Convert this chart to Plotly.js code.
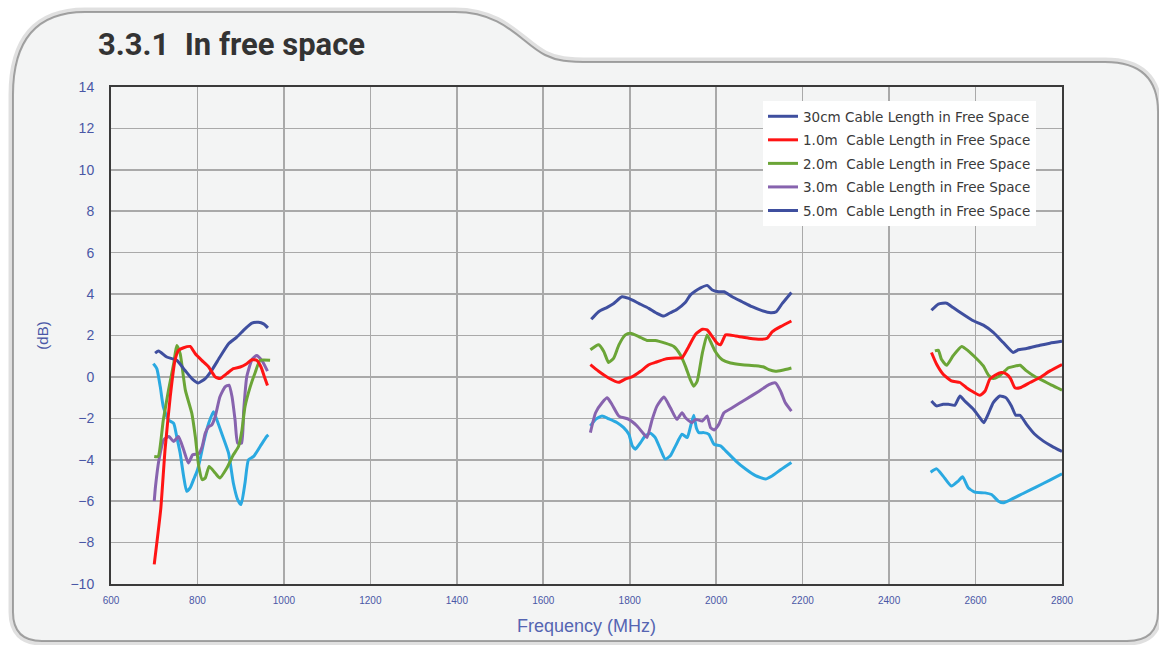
<!DOCTYPE html>
<html>
<head>
<meta charset="utf-8">
<script src="https://cdn.plot.ly/plotly-3.0.1.min.js"></script>
<style>
  html, body { margin: 0; padding: 0; background: #ffffff; }
  #chart { width: 1159px; height: 645px; }
</style>
</head>
<body>
<div id="chart"></div>
<script>
// ---- Data; null separates the frequency bands ----
const seriesNames = [
  "30cm Cable Length in Free Space",
  "1.0m  Cable Length in Free Space",
  "2.0m  Cable Length in Free Space",
  "3.0m  Cable Length in Free Space",
  "5.0m  Cable Length in Free Space"
];

const freq_30cm = [702,710,729,752,771,787,802,818,833,852,872,891,910,926,941,953,963, null,
  1711,1728,1748,1763,1782,1798,1821,1844,1863,1879,1894,1909,1929,1940,1952,1964,1979,1991,2006,2018,2037,2060,2083,2106,2126,2139,2153,2174, null,
  2498,2514,2533,2548,2571,2595,2618,2641,2664,2687,2699,2718,2749,2772,2800];
const db_30cm = [1.15,1.25,0.96,0.8,0.32,-0.08,-0.29,-0.08,0.32,0.96,1.6,1.92,2.32,2.6,2.64,2.56,2.37, null,
  2.78,3.15,3.36,3.55,3.87,3.79,3.55,3.31,3.07,2.94,3.1,3.26,3.6,3.95,4.15,4.3,4.42,4.2,4.11,4.11,3.87,3.63,3.39,3.2,3.1,3.15,3.55,4.08, null,
  3.22,3.52,3.56,3.35,3.03,2.71,2.5,2.15,1.66,1.18,1.31,1.37,1.53,1.63,1.72];

const freq_1m = [700,715,725,737,748,756,768,783,795,810,826,841,852,868,883,899,914,926,937,947,955,962, null,
  1709,1728,1751,1775,1790,1805,1825,1844,1859,1882,1906,1921,1936,1952,1968,1979,1991,2002,2010,2022,2045,2076,2103,2118,2130,2149,2174, null,
  2498,2510,2525,2544,2564,2579,2595,2610,2622,2633,2645,2660,2672,2681,2691,2703,2726,2749,2772,2800];
const db_1m = [-9.05,-6.4,-3.52,-0.96,0.8,1.28,1.41,1.47,1.12,0.8,0.48,0.0,-0.08,0.16,0.4,0.48,0.64,0.83,0.8,0.48,0.0,-0.42, null,
  0.59,0.27,-0.05,-0.26,-0.1,0.0,0.27,0.59,0.7,0.86,0.91,0.93,1.45,2.05,2.3,2.27,1.95,1.63,1.55,2.03,1.98,1.87,1.82,1.87,2.19,2.43,2.7, null,
  1.18,0.61,0.13,-0.19,-0.27,-0.52,-0.73,-0.89,-0.68,-0.11,0.08,0.21,0.13,-0.08,-0.52,-0.52,-0.27,-0.03,0.29,0.6];

const freq_2m = [700,709,721,733,745,752,760,772,787,795,803,811,818,827,841,852,868,883,895,903,910,922,934,945,968, null,
  1709,1728,1740,1751,1763,1775,1790,1802,1821,1840,1859,1882,1902,1917,1929,1940,1948,1956,1968,1979,1987,1998,2014,2033,2060,2091,2110,2122,2137,2153,2174, null,
  2506,2514,2521,2533,2548,2568,2583,2602,2618,2630,2641,2653,2668,2676,2687,2703,2718,2737,2757,2776,2800];
const db_2m = [-3.84,-3.84,-2.08,-0.64,0.64,1.52,1.12,-0.64,-1.76,-2.88,-4.32,-4.96,-4.88,-4.32,-4.64,-4.88,-4.4,-3.76,-3.36,-2.56,-1.44,-0.48,0.24,0.8,0.8, null,
  1.31,1.55,1.23,0.7,0.91,1.55,2.03,2.11,1.95,1.76,1.76,1.63,1.47,1.07,0.51,-0.13,-0.45,-0.21,1.15,2.03,1.71,1.23,0.83,0.67,0.59,0.54,0.48,0.35,0.27,0.32,0.43, null,
  1.26,1.29,0.85,0.56,1.02,1.47,1.26,0.89,0.53,0.08,-0.08,0.02,0.29,0.44,0.5,0.56,0.29,0.02,-0.19,-0.4,-0.64];

const freq_3m = [700,703,711,722,734,745,756,768,779,789,803,811,818,826,833,841,852,864,873,880,887,893,902,907,914,926,937,949,962, null,
  1709,1721,1736,1748,1759,1775,1798,1817,1833,1840,1852,1863,1879,1894,1909,1921,1929,1944,1952,1968,1979,1987,1995,2006,2018,2037,2068,2099,2122,2137,2149,2160,2174];
const db_3m = [-6.0,-5.28,-4.0,-3.04,-2.88,-3.12,-2.88,-3.52,-4.16,-3.76,-3.71,-3.36,-2.72,-2.4,-2.32,-1.92,-0.96,-0.48,-0.4,-0.96,-2.08,-3.2,-3.2,-1.6,0.0,0.83,1.04,0.8,0.28, null,
  -2.69,-1.73,-1.25,-1.01,-1.33,-1.89,-2.05,-2.37,-2.77,-2.93,-2.05,-1.41,-0.97,-1.49,-2.05,-1.73,-1.97,-2.21,-2.05,-2.13,-1.89,-2.45,-2.56,-2.29,-1.73,-1.49,-1.09,-0.69,-0.37,-0.29,-0.69,-1.25,-1.65];

const freq_5m = [2498,2510,2525,2537,2552,2564,2575,2595,2610,2619,2629,2641,2656,2670,2683,2693,2703,2718,2737,2757,2776,2800];
const db_5m = [-1.16,-1.4,-1.32,-1.32,-1.37,-0.92,-1.16,-1.56,-1.97,-2.21,-1.81,-1.24,-0.92,-1.0,-1.4,-1.85,-1.85,-2.29,-2.77,-3.1,-3.34,-3.6];

// light-blue curve drawn in the chart but not listed in the visible legend
const freq_extra = [698,706,714,721,733,745,752,760,768,775,783,791,799,806,814,826,837,845,856,872,883,893,901,910,918,930,945,960,964, null,
  1709,1721,1736,1751,1771,1786,1798,1806,1813,1825,1836,1848,1859,1871,1882,1894,1906,1921,1933,1940,1948,1954,1960,1971,1983,1995,2010,2022,2045,2068,2091,2114,2130,2149,2174, null,
  2496,2510,2525,2544,2560,2570,2583,2598,2622,2637,2653,2664,2679,2710,2741,2772,2800];
const db_extra = [0.64,0.4,-0.48,-1.44,-2.08,-2.24,-2.88,-3.68,-4.8,-5.52,-5.36,-4.96,-4.56,-4.0,-3.2,-2.24,-1.68,-2.08,-2.72,-3.68,-5.12,-5.92,-6.16,-5.12,-4.0,-3.84,-3.36,-2.88,-2.8, null,
  -2.37,-2.05,-1.89,-2.02,-2.21,-2.45,-2.77,-3.33,-3.49,-3.17,-2.85,-2.72,-2.93,-3.49,-3.97,-3.81,-3.33,-2.77,-2.93,-2.45,-1.85,-2.45,-2.69,-2.69,-2.77,-3.25,-3.33,-3.57,-4.05,-4.45,-4.77,-4.93,-4.77,-4.48,-4.13, null,
  -4.6,-4.44,-4.79,-5.27,-5.03,-4.82,-5.35,-5.56,-5.6,-5.68,-6.0,-6.08,-5.95,-5.63,-5.31,-4.98,-4.68];

const xTickVals = [600,800,1000,1200,1400,1600,1800,2000,2200,2400,2600,2800];
const yTickVals = [-10,-8,-6,-4,-2,0,2,4,6,8,10,12,14];

// ---- Styling ----
const C_NAVY = '#3f4f9f', C_RED = '#ff1414', C_GREEN = '#6ba537', C_PURPLE = '#8763ae', C_CYAN = '#2aa9e1';
const W = 1159, H = 645;
const M = {l: 111, r: 97, t: 87, b: 61};
const plotW = W - M.l - M.r, plotH = H - M.t - M.b;
function px(x) { return ((x - M.l) / plotW).toFixed(5); }
function py(y) { return ((H - M.b - y) / plotH).toFixed(5); }
function pathFrom(cmds) {
  return cmds.map(c => {
    const op = c[0]; const r = [op];
    for (let i = 1; i < c.length; i += 2) r.push(px(c[i]) + ',' + py(c[i + 1]));
    return r.join(' ');
  }).join(' ');
}
const tabPath = pathFrom([
  ['M', 13, 95], ['Q', 13, 12, 85, 12], ['L', 455, 12],
  ['C', 505, 12, 522, 44, 545, 55], ['C', 557, 61, 567, 62, 592, 62],
  ['L', 1105, 62], ['Q', 1158, 62, 1158, 112], ['L', 1158, 612],
  ['Q', 1158, 641, 1127, 641], ['L', 42, 641], ['Q', 13, 641, 13, 612], ['Z']
]);

function mk(x, y, name, color, show) {
  return {
    type: 'scatter', mode: 'lines', x: x, y: y, name: name,
    line: {color: color, width: 3, shape: 'spline', smoothing: 0.5},
    connectgaps: false, showlegend: show, legendgroup: name
  };
}
const traces = [
  mk(freq_extra, db_extra, 'light blue curve', C_CYAN, false),
  mk(freq_3m, db_3m, seriesNames[3], C_PURPLE, true),
  mk(freq_5m, db_5m, seriesNames[4], C_NAVY, true),
  mk(freq_2m, db_2m, seriesNames[2], C_GREEN, true),
  mk(freq_30cm, db_30cm, seriesNames[0], C_NAVY, true),
  mk(freq_1m, db_1m, seriesNames[1], C_RED, true)
];
// legend order
traces[4].legendrank = 1; traces[5].legendrank = 2; traces[3].legendrank = 3; traces[1].legendrank = 4; traces[2].legendrank = 5;

const tickFontX = {family: 'Liberation Sans, Arial, sans-serif', size: 10, color: '#4a57a6'};
const tickFontY = {family: 'Liberation Sans, Arial, sans-serif', size: 14, color: '#4a57a6'};

const layout = {
  width: W, height: H,
  margin: M,
  paper_bgcolor: '#ffffff',
  plot_bgcolor: 'rgba(0,0,0,0)',
  showlegend: true,
  legend: {
    x: px(763), y: py(101), xanchor: 'left', yanchor: 'top',
    bgcolor: '#ffffff', borderwidth: 0,
    font: {family: 'DejaVu Sans, sans-serif', size: 13.5, color: '#3a3a3a'},
    tracegroupgap: 3, traceorder: 'grouped', itemwidth: 30
  },
  xaxis: {
    range: [600, 2800], tickmode: 'array', tickvals: xTickVals,
    showgrid: true, gridcolor: '#a9a9a9', gridwidth: 1.6,
    zeroline: false, showline: true, linecolor: '#3a3a3a', linewidth: 2, mirror: true,
    ticks: 'outside', ticklen: 6, tickcolor: 'rgba(0,0,0,0)',
    tickfont: tickFontX,
    title: {text: 'Frequency (MHz)', font: {family: 'Liberation Sans, Arial, sans-serif', size: 18, color: '#5565b2'}, standoff: 14}
  },
  yaxis: {
    range: [-10, 14], tickmode: 'array', tickvals: yTickVals,
    showgrid: true, gridcolor: '#a9a9a9', gridwidth: 1.6,
    zeroline: false, showline: true, linecolor: '#3a3a3a', linewidth: 2, mirror: true,
    ticks: 'outside', ticklen: 12, tickcolor: 'rgba(0,0,0,0)',
    tickfont: tickFontY,
    title: {text: '(dB)', font: {family: 'Liberation Sans, Arial, sans-serif', size: 15, color: '#4a57a6'}, standoff: 18}
  },
  shapes: [
    {type: 'path', xref: 'paper', yref: 'paper', path: tabPath, layer: 'below',
     fillcolor: 'rgba(0,0,0,0)', line: {color: 'rgba(0,0,0,0.12)', width: 9}},
    {type: 'path', xref: 'paper', yref: 'paper', path: tabPath, layer: 'below',
     fillcolor: '#f3f4f4', line: {color: 'rgba(110,110,110,0.6)', width: 2}}
  ],
  annotations: [
    {xref: 'paper', yref: 'paper', x: px(96), y: py(45), xanchor: 'left', yanchor: 'middle',
     showarrow: false, text: '<b>3.3.1  In free space</b>',
     font: {family: 'Roboto, sans-serif', size: 31, color: '#333333'}}
  ]
};

Plotly.newPlot('chart', traces, layout, {displayModeBar: false, staticPlot: true});
</script>
</body>
</html>
